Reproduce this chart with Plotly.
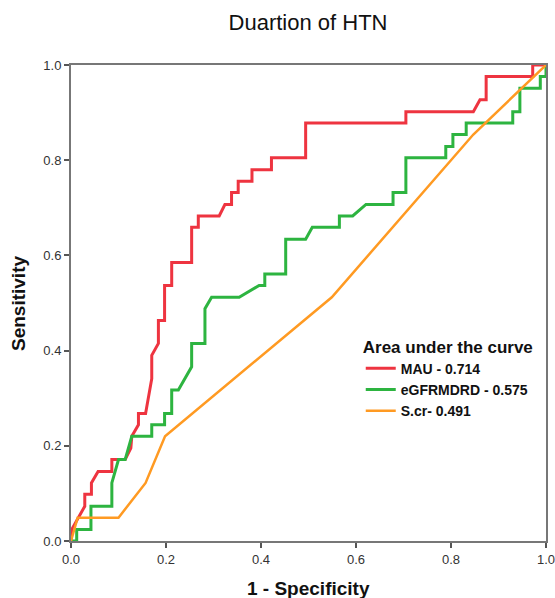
import plotly.graph_objects as go

# ---- data ----
mau_fpr = [0, 0.002, 0.029, 0.029, 0.043, 0.043, 0.057, 0.086, 0.086, 0.114, 0.126, 0.128, 0.142, 0.142,
           0.157, 0.170, 0.170, 0.184, 0.184, 0.197, 0.197, 0.212, 0.212, 0.254, 0.254, 0.268,
           0.268, 0.312, 0.324, 0.338, 0.338, 0.352, 0.352, 0.381, 0.381, 0.422, 0.422, 0.494,
           0.494, 0.705, 0.705, 0.847, 0.861, 0.874, 0.874, 0.972, 0.972, 1.0]
mau_tpr = [0, 0.025, 0.073, 0.098, 0.098, 0.122, 0.146, 0.146, 0.171, 0.171, 0.195, 0.220, 0.244, 0.268,
           0.268, 0.341, 0.390, 0.415, 0.463, 0.463, 0.537, 0.537, 0.585, 0.585, 0.659, 0.659,
           0.683, 0.683, 0.707, 0.707, 0.732, 0.732, 0.756, 0.756, 0.780, 0.780, 0.805, 0.805,
           0.878, 0.878, 0.902, 0.902, 0.927, 0.927, 0.976, 0.976, 1.0, 1.0]

egfr_fpr = [0, 0.012, 0.012, 0.042, 0.042, 0.086, 0.086, 0.100, 0.114, 0.128, 0.170, 0.170, 0.197,
            0.197, 0.212, 0.212, 0.226, 0.254, 0.254, 0.282, 0.282, 0.296, 0.354, 0.396, 0.408,
            0.408, 0.452, 0.452, 0.494, 0.508, 0.565, 0.565, 0.593, 0.621, 0.678, 0.678, 0.705,
            0.705, 0.789, 0.789, 0.804, 0.804, 0.832, 0.832, 0.930, 0.930, 0.945, 0.945, 0.988,
            0.988, 1.0, 1.0]
egfr_tpr = [0, 0, 0.024, 0.024, 0.073, 0.073, 0.122, 0.171, 0.171, 0.220, 0.220, 0.244, 0.244,
            0.268, 0.268, 0.317, 0.317, 0.366, 0.415, 0.415, 0.488, 0.512, 0.512, 0.537, 0.537,
            0.561, 0.561, 0.634, 0.634, 0.659, 0.659, 0.683, 0.683, 0.707, 0.707, 0.732, 0.732,
            0.805, 0.805, 0.829, 0.829, 0.854, 0.854, 0.878, 0.878, 0.902, 0.902, 0.951, 0.951,
            0.976, 0.976, 1.0]

scr_fpr = [0, 0.014, 0.100, 0.157, 0.198, 0.549, 0.847, 1.0]
scr_tpr = [0, 0.049, 0.049, 0.122, 0.220, 0.512, 0.854, 1.0]

series_names = ["MAU - 0.714", "eGFRMDRD - 0.575", "S.cr- 0.491"]
tick_vals = [0, 0.2, 0.4, 0.6, 0.8, 1.0]
tick_text = ["0.0", "0.2", "0.4", "0.6", "0.8", "1.0"]

FONT = "Liberation Sans, Arial, sans-serif"
RED = "#EE3440"
GREEN = "#2DB440"
ORANGE = "#FF9A22"

fig = go.Figure()
fig.add_trace(go.Scatter(x=mau_fpr, y=mau_tpr, mode="lines", name="<b>" + series_names[0] + "</b>",
                         line=dict(color=RED, width=3)))
fig.add_trace(go.Scatter(x=egfr_fpr, y=egfr_tpr, mode="lines", name="<b>" + series_names[1] + "</b>",
                         line=dict(color=GREEN, width=3)))
fig.add_trace(go.Scatter(x=scr_fpr, y=scr_tpr, mode="lines", name="<b>" + series_names[2] + "</b>",
                         line=dict(color=ORANGE, width=2.5)))

axis_common = dict(range=[0, 1], tickvals=tick_vals, ticktext=tick_text, ticks="outside",
                   ticklen=5, tickwidth=2, tickcolor="#555555", showgrid=False, zeroline=False,
                   showline=True, linecolor="#777777", linewidth=2, mirror=True,
                   automargin=False, ticklabeloverflow="allow",
                   tickfont=dict(family=FONT, size=13, color="#333333"))

fig.update_layout(
    width=555, height=598,
    autosize=False,
    margin=dict(l=71, r=9, t=65, b=57, autoexpand=False),
    paper_bgcolor="white", plot_bgcolor="white",
    title=dict(text="Duartion of HTN", x=0.555, xanchor="center", y=0.962, yanchor="middle",
               font=dict(family=FONT, size=22, color="#111111")),
    xaxis=dict(**axis_common),
    yaxis=dict(**axis_common),
    showlegend=True,
    legend=dict(x=0.61, y=0.442, xanchor="left", yanchor="top",
                bgcolor="rgba(0,0,0,0)", itemwidth=30,
                title=dict(text="<b>Area under the curve</b>", side="top",
                           font=dict(family=FONT, size=17, color="#111111")),
                font=dict(family=FONT, size=14, color="#111111"),
                tracegroupgap=0),
    annotations=[
        dict(text="<b>1 - Specificity</b>", x=0.5, y=-0.1, xref="paper", yref="paper",
             xanchor="center", yanchor="middle", showarrow=False,
             font=dict(family=FONT, size=19, color="#111111")),
        dict(text="<b>Sensitivity</b>", x=-0.1116, y=0.5, xref="paper", yref="paper",
             xanchor="center", yanchor="middle", showarrow=False, textangle=-90,
             font=dict(family=FONT, size=19, color="#111111")),
    ],
)

fig.write_html("out.html", config={"displayModeBar": False},
               post_script="document.body.style.margin='0';document.body.style.overflow='hidden';")
